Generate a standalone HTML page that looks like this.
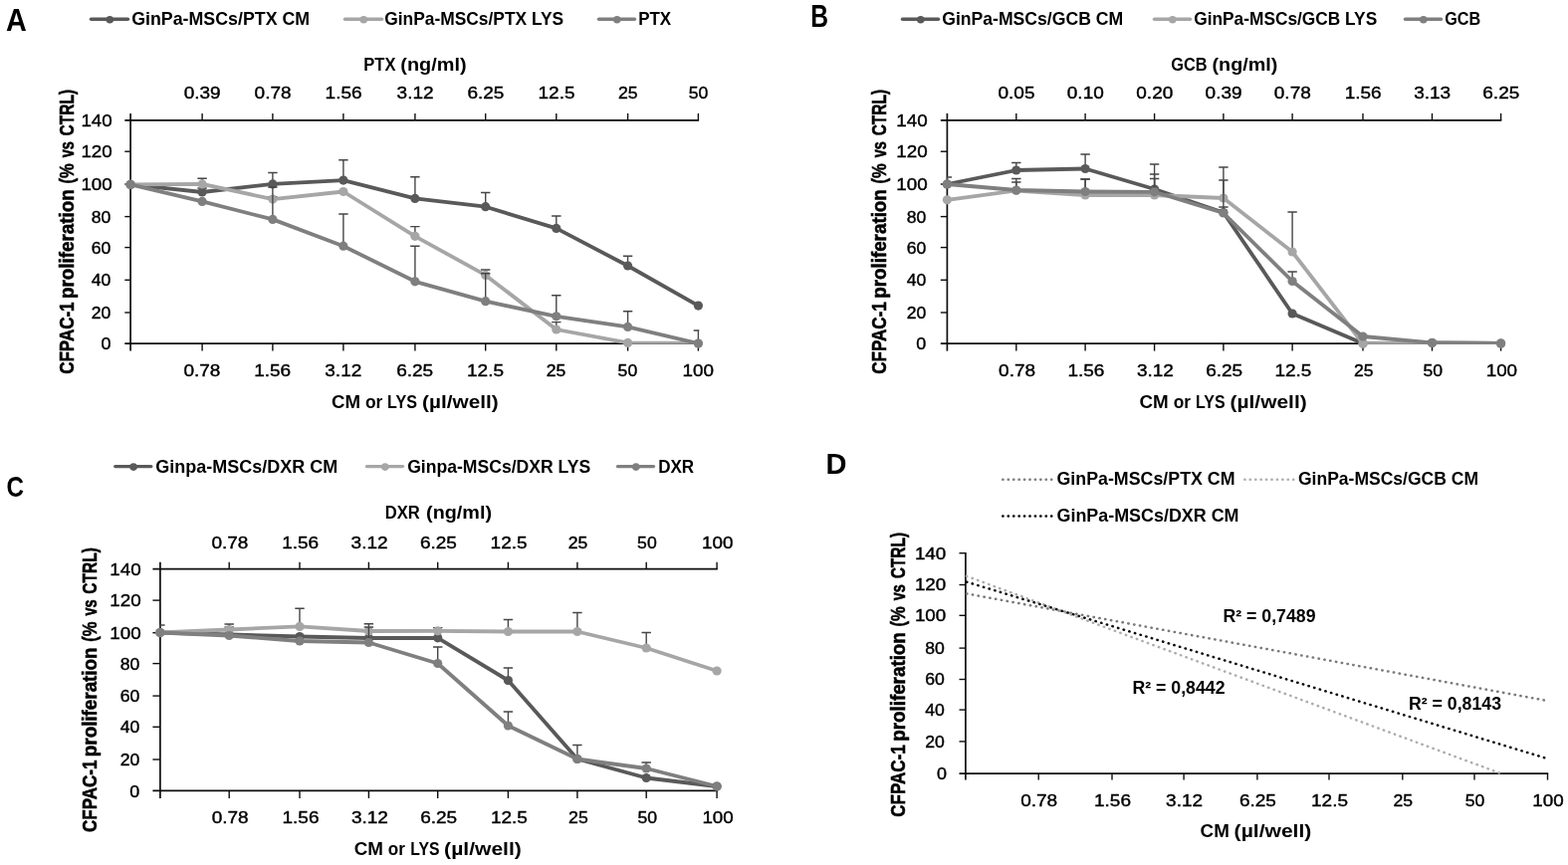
<!DOCTYPE html>
<html lang="en">
<head>
<meta charset="utf-8">
<title>CFPAC-1 proliferation</title>
<style>
html,body{margin:0;padding:0;background:#fff;overflow:hidden}
svg{display:block;font-family:'Liberation Sans', sans-serif}
</style>
</head>
<body>
<svg width="1575" height="869" viewBox="0 0 1575 869">
<rect width="1575" height="869" fill="#fff"/>
<text x="6.0" y="31.4" font-size="31.4" text-anchor="start" fill="#000" font-weight="bold" textLength="20.8" lengthAdjust="spacingAndGlyphs">A</text>
<line x1="91.5" y1="19.3" x2="128.5" y2="19.3" stroke="#595959" stroke-width="3.4" stroke-linecap="round"/>
<circle cx="110.3" cy="19.8" r="3.8" fill="#595959"/>
<text x="132.2" y="25.4" font-size="18.1" text-anchor="start" fill="#000" font-weight="bold" textLength="179.0" lengthAdjust="spacingAndGlyphs">GinPa-MSCs/PTX CM</text>
<line x1="346.5" y1="19.3" x2="383.5" y2="19.3" stroke="#a6a6a6" stroke-width="3.4" stroke-linecap="round"/>
<circle cx="365.3" cy="19.8" r="3.8" fill="#a6a6a6"/>
<text x="386.2" y="25.4" font-size="18.1" text-anchor="start" fill="#000" font-weight="bold" textLength="180.0" lengthAdjust="spacingAndGlyphs">GinPa-MSCs/PTX LYS</text>
<line x1="601.5" y1="19.3" x2="637.5" y2="19.3" stroke="#7f7f7f" stroke-width="3.4" stroke-linecap="round"/>
<circle cx="619.8" cy="19.8" r="3.8" fill="#7f7f7f"/>
<text x="641.2" y="25.4" font-size="18.1" text-anchor="start" fill="#000" font-weight="bold" textLength="33.0" lengthAdjust="spacingAndGlyphs">PTX</text>
<line x1="131.1" y1="113.9" x2="131.1" y2="352.6" stroke="#0d0d0d" stroke-width="1.7" />
<line x1="125.3" y1="345.1" x2="702.1" y2="345.1" stroke="#0d0d0d" stroke-width="1.7" />
<line x1="125.3" y1="120.9" x2="702.1" y2="120.9" stroke="#0d0d0d" stroke-width="1.7" />
<line x1="203.1" y1="345.1" x2="203.1" y2="352.6" stroke="#0d0d0d" stroke-width="1.4" />
<line x1="203.1" y1="113.9" x2="203.1" y2="120.9" stroke="#0d0d0d" stroke-width="1.4" />
<line x1="273.9" y1="345.1" x2="273.9" y2="352.6" stroke="#0d0d0d" stroke-width="1.4" />
<line x1="273.9" y1="113.9" x2="273.9" y2="120.9" stroke="#0d0d0d" stroke-width="1.4" />
<line x1="344.9" y1="345.1" x2="344.9" y2="352.6" stroke="#0d0d0d" stroke-width="1.4" />
<line x1="344.9" y1="113.9" x2="344.9" y2="120.9" stroke="#0d0d0d" stroke-width="1.4" />
<line x1="416.9" y1="345.1" x2="416.9" y2="352.6" stroke="#0d0d0d" stroke-width="1.4" />
<line x1="416.9" y1="113.9" x2="416.9" y2="120.9" stroke="#0d0d0d" stroke-width="1.4" />
<line x1="487.7" y1="345.1" x2="487.7" y2="352.6" stroke="#0d0d0d" stroke-width="1.4" />
<line x1="487.7" y1="113.9" x2="487.7" y2="120.9" stroke="#0d0d0d" stroke-width="1.4" />
<line x1="558.8" y1="345.1" x2="558.8" y2="352.6" stroke="#0d0d0d" stroke-width="1.4" />
<line x1="558.8" y1="113.9" x2="558.8" y2="120.9" stroke="#0d0d0d" stroke-width="1.4" />
<line x1="630.6" y1="345.1" x2="630.6" y2="352.6" stroke="#0d0d0d" stroke-width="1.4" />
<line x1="630.6" y1="113.9" x2="630.6" y2="120.9" stroke="#0d0d0d" stroke-width="1.4" />
<line x1="701.4" y1="345.1" x2="701.4" y2="352.6" stroke="#0d0d0d" stroke-width="1.4" />
<line x1="701.4" y1="113.9" x2="701.4" y2="120.9" stroke="#0d0d0d" stroke-width="1.4" />
<text x="111.4" y="351.2" font-size="17.0" text-anchor="end" fill="#000" stroke="#000" stroke-width="0.4" textLength="10.0" lengthAdjust="spacingAndGlyphs">0</text>
<line x1="125.3" y1="314.0" x2="131.1" y2="314.0" stroke="#0d0d0d" stroke-width="1.4" />
<text x="111.4" y="320.1" font-size="17.0" text-anchor="end" fill="#000" stroke="#000" stroke-width="0.4" textLength="19.6" lengthAdjust="spacingAndGlyphs">20</text>
<line x1="125.3" y1="281.3" x2="131.1" y2="281.3" stroke="#0d0d0d" stroke-width="1.4" />
<text x="111.4" y="287.4" font-size="17.0" text-anchor="end" fill="#000" stroke="#000" stroke-width="0.4" textLength="19.6" lengthAdjust="spacingAndGlyphs">40</text>
<line x1="125.3" y1="248.6" x2="131.1" y2="248.6" stroke="#0d0d0d" stroke-width="1.4" />
<text x="111.4" y="254.7" font-size="17.0" text-anchor="end" fill="#000" stroke="#000" stroke-width="0.4" textLength="19.6" lengthAdjust="spacingAndGlyphs">60</text>
<line x1="125.3" y1="217.6" x2="131.1" y2="217.6" stroke="#0d0d0d" stroke-width="1.4" />
<text x="111.4" y="223.7" font-size="17.0" text-anchor="end" fill="#000" stroke="#000" stroke-width="0.4" textLength="19.6" lengthAdjust="spacingAndGlyphs">80</text>
<line x1="125.3" y1="185.0" x2="131.1" y2="185.0" stroke="#0d0d0d" stroke-width="1.4" />
<text x="112.8" y="191.1" font-size="17.0" text-anchor="end" fill="#000" stroke="#000" stroke-width="0.4" textLength="31.4" lengthAdjust="spacingAndGlyphs">100</text>
<line x1="125.3" y1="152.2" x2="131.1" y2="152.2" stroke="#0d0d0d" stroke-width="1.4" />
<text x="112.8" y="158.3" font-size="17.0" text-anchor="end" fill="#000" stroke="#000" stroke-width="0.4" textLength="31.4" lengthAdjust="spacingAndGlyphs">120</text>
<text x="112.8" y="127.0" font-size="17.0" text-anchor="end" fill="#000" stroke="#000" stroke-width="0.4" textLength="31.4" lengthAdjust="spacingAndGlyphs">140</text>
<text x="202.9" y="378.2" font-size="17.0" text-anchor="middle" fill="#000" stroke="#000" stroke-width="0.4" textLength="37.0" lengthAdjust="spacingAndGlyphs">0.78</text>
<text x="273.7" y="378.2" font-size="17.0" text-anchor="middle" fill="#000" stroke="#000" stroke-width="0.4" textLength="37.0" lengthAdjust="spacingAndGlyphs">1.56</text>
<text x="344.8" y="378.2" font-size="17.0" text-anchor="middle" fill="#000" stroke="#000" stroke-width="0.4" textLength="37.0" lengthAdjust="spacingAndGlyphs">3.12</text>
<text x="416.7" y="378.2" font-size="17.0" text-anchor="middle" fill="#000" stroke="#000" stroke-width="0.4" textLength="37.0" lengthAdjust="spacingAndGlyphs">6.25</text>
<text x="487.5" y="378.2" font-size="17.0" text-anchor="middle" fill="#000" stroke="#000" stroke-width="0.4" textLength="37.0" lengthAdjust="spacingAndGlyphs">12.5</text>
<text x="558.6" y="378.2" font-size="17.0" text-anchor="middle" fill="#000" stroke="#000" stroke-width="0.4" textLength="19.6" lengthAdjust="spacingAndGlyphs">25</text>
<text x="630.4" y="378.2" font-size="17.0" text-anchor="middle" fill="#000" stroke="#000" stroke-width="0.4" textLength="19.6" lengthAdjust="spacingAndGlyphs">50</text>
<text x="701.2" y="378.2" font-size="17.0" text-anchor="middle" fill="#000" stroke="#000" stroke-width="0.4" textLength="31.4" lengthAdjust="spacingAndGlyphs">100</text>
<text x="203.2" y="99.3" font-size="17.0" text-anchor="middle" fill="#000" stroke="#000" stroke-width="0.4" textLength="37.0" lengthAdjust="spacingAndGlyphs">0.39</text>
<text x="274.1" y="99.3" font-size="17.0" text-anchor="middle" fill="#000" stroke="#000" stroke-width="0.4" textLength="37.0" lengthAdjust="spacingAndGlyphs">0.78</text>
<text x="345.1" y="99.3" font-size="17.0" text-anchor="middle" fill="#000" stroke="#000" stroke-width="0.4" textLength="37.0" lengthAdjust="spacingAndGlyphs">1.56</text>
<text x="417.1" y="99.3" font-size="17.0" text-anchor="middle" fill="#000" stroke="#000" stroke-width="0.4" textLength="37.0" lengthAdjust="spacingAndGlyphs">3.12</text>
<text x="487.9" y="99.3" font-size="17.0" text-anchor="middle" fill="#000" stroke="#000" stroke-width="0.4" textLength="37.0" lengthAdjust="spacingAndGlyphs">6.25</text>
<text x="559.0" y="99.3" font-size="17.0" text-anchor="middle" fill="#000" stroke="#000" stroke-width="0.4" textLength="37.0" lengthAdjust="spacingAndGlyphs">12.5</text>
<text x="630.8" y="99.3" font-size="17.0" text-anchor="middle" fill="#000" stroke="#000" stroke-width="0.4" textLength="19.6" lengthAdjust="spacingAndGlyphs">25</text>
<text x="701.6" y="99.3" font-size="17.0" text-anchor="middle" fill="#000" stroke="#000" stroke-width="0.4" textLength="19.6" lengthAdjust="spacingAndGlyphs">50</text>
<text y="70.8" font-size="18.0" fill="#000" font-weight="bold" ><tspan x="365.27" textLength="32.15" lengthAdjust="spacingAndGlyphs">PTX</tspan> <tspan x="402.27" textLength="66.35" lengthAdjust="spacingAndGlyphs">(ng/ml)</tspan></text>
<text y="409.6" font-size="18.0" fill="#000" font-weight="bold" ><tspan x="333.12" textLength="29.05" lengthAdjust="spacingAndGlyphs">CM</tspan> <tspan x="366.96" textLength="17.39" lengthAdjust="spacingAndGlyphs">or</tspan> <tspan x="389.09" textLength="29.83" lengthAdjust="spacingAndGlyphs">LYS</tspan> <tspan x="424.13" textLength="76.52" lengthAdjust="spacingAndGlyphs">(µl/well)</tspan></text>
<text y="0.0" font-size="18.3" fill="#000" font-weight="bold" stroke="#000" stroke-width="0.5" transform="translate(73.9 375.5) rotate(-90) scale(1 1.14)"><tspan x="-0.28" textLength="72.35" lengthAdjust="spacingAndGlyphs">CFPAC-1</tspan> <tspan x="75.57" textLength="109.68" lengthAdjust="spacingAndGlyphs">proliferation</tspan> <tspan x="190.98" textLength="20.10" lengthAdjust="spacingAndGlyphs">(%</tspan> <tspan x="217.15" textLength="16.19" lengthAdjust="spacingAndGlyphs">vs</tspan> <tspan x="239.06" textLength="46.55" lengthAdjust="spacingAndGlyphs">CTRL)</tspan></text>
<clipPath id="clip1"><rect x="130.5" y="90.9" width="571.8" height="254.8"/></clipPath>
<g clip-path="url(#clip1)" stroke="#464646" stroke-width="1.4">
<path d="M203.1 193.0V189.0M198.4 189.0H207.8" fill="none"/>
<path d="M273.9 184.9V173.5M269.2 173.5H278.6" fill="none"/>
<path d="M344.9 181.1V160.8M340.2 160.8H349.6" fill="none"/>
<path d="M416.9 199.4V177.8M412.2 177.8H421.6" fill="none"/>
<path d="M487.7 207.7V193.5M483.0 193.5H492.4" fill="none"/>
<path d="M558.8 229.4V217.0M554.1 217.0H563.5" fill="none"/>
<path d="M630.6 267.0V257.3M625.9 257.3H635.3" fill="none"/>
</g>
<polyline clip-path="url(#clip1)" points="131.1,185.4 203.1,193.0 273.9,184.9 344.9,181.1 416.9,199.4 487.7,207.7 558.8,229.4 630.6,267.0 701.4,307.1" fill="none" stroke="#595959" stroke-width="3.8" stroke-linejoin="round" stroke-linecap="round"/>
<circle cx="131.1" cy="185.4" r="4.6" fill="#595959"/>
<circle cx="203.1" cy="193.0" r="4.6" fill="#595959"/>
<circle cx="273.9" cy="184.9" r="4.6" fill="#595959"/>
<circle cx="344.9" cy="181.1" r="4.6" fill="#595959"/>
<circle cx="416.9" cy="199.4" r="4.6" fill="#595959"/>
<circle cx="487.7" cy="207.7" r="4.6" fill="#595959"/>
<circle cx="558.8" cy="229.4" r="4.6" fill="#595959"/>
<circle cx="630.6" cy="267.0" r="4.6" fill="#595959"/>
<circle cx="701.4" cy="307.1" r="4.6" fill="#595959"/>
<g clip-path="url(#clip1)" stroke="#464646" stroke-width="1.4">
<path d="M203.1 184.9V179.2M198.4 179.2H207.8" fill="none"/>
<path d="M273.9 200.1V197.6M269.2 197.6H278.6" fill="none"/>
<path d="M416.9 237.3V227.6M412.2 227.6H421.6" fill="none"/>
<path d="M487.7 276.4V271.0M483.0 271.0H492.4" fill="none"/>
<path d="M558.8 331.0V323.6M554.1 323.6H563.5" fill="none"/>
</g>
<polyline clip-path="url(#clip1)" points="131.1,185.4 203.1,184.9 273.9,200.1 344.9,192.5 416.9,237.3 487.7,276.4 558.8,331.0 630.6,344.4 701.4,345.0" fill="none" stroke="#a6a6a6" stroke-width="3.8" stroke-linejoin="round" stroke-linecap="round"/>
<circle cx="131.1" cy="185.4" r="4.6" fill="#a6a6a6"/>
<circle cx="203.1" cy="184.9" r="4.6" fill="#a6a6a6"/>
<circle cx="273.9" cy="200.1" r="4.6" fill="#a6a6a6"/>
<circle cx="344.9" cy="192.5" r="4.6" fill="#a6a6a6"/>
<circle cx="416.9" cy="237.3" r="4.6" fill="#a6a6a6"/>
<circle cx="487.7" cy="276.4" r="4.6" fill="#a6a6a6"/>
<circle cx="558.8" cy="331.0" r="4.6" fill="#a6a6a6"/>
<circle cx="630.6" cy="344.4" r="4.6" fill="#a6a6a6"/>
<circle cx="701.4" cy="345.0" r="4.6" fill="#a6a6a6"/>
<g clip-path="url(#clip1)" stroke="#464646" stroke-width="1.4">
<path d="M273.9 220.4V188.0M269.2 188.0H278.6" fill="none"/>
<path d="M344.9 247.2V215.0M340.2 215.0H349.6" fill="none"/>
<path d="M416.9 282.8V247.2M412.2 247.2H421.6" fill="none"/>
<path d="M487.7 302.7V274.8M483.0 274.8H492.4" fill="none"/>
<path d="M558.8 317.8V296.7M554.1 296.7H563.5" fill="none"/>
<path d="M630.6 328.4V312.7M625.9 312.7H635.3" fill="none"/>
<path d="M701.4 345.0V332.0M696.7 332.0H706.1" fill="none"/>
</g>
<polyline clip-path="url(#clip1)" points="131.1,185.4 203.1,202.4 273.9,220.4 344.9,247.2 416.9,282.8 487.7,302.7 558.8,317.8 630.6,328.4 701.4,345.0" fill="none" stroke="#7f7f7f" stroke-width="3.8" stroke-linejoin="round" stroke-linecap="round"/>
<circle cx="131.1" cy="185.4" r="4.6" fill="#7f7f7f"/>
<circle cx="203.1" cy="202.4" r="4.6" fill="#7f7f7f"/>
<circle cx="273.9" cy="220.4" r="4.6" fill="#7f7f7f"/>
<circle cx="344.9" cy="247.2" r="4.6" fill="#7f7f7f"/>
<circle cx="416.9" cy="282.8" r="4.6" fill="#7f7f7f"/>
<circle cx="487.7" cy="302.7" r="4.6" fill="#7f7f7f"/>
<circle cx="558.8" cy="317.8" r="4.6" fill="#7f7f7f"/>
<circle cx="630.6" cy="328.4" r="4.6" fill="#7f7f7f"/>
<circle cx="701.4" cy="345.0" r="4.6" fill="#7f7f7f"/>
<text x="814.2" y="27.0" font-size="30.8" text-anchor="start" fill="#000" font-weight="bold" textLength="17.8" lengthAdjust="spacingAndGlyphs">B</text>
<line x1="906.5" y1="19.3" x2="942.5" y2="19.3" stroke="#595959" stroke-width="3.4" stroke-linecap="round"/>
<circle cx="924.8" cy="19.8" r="3.8" fill="#595959"/>
<text x="946.2" y="25.4" font-size="18.1" text-anchor="start" fill="#000" font-weight="bold" textLength="182.0" lengthAdjust="spacingAndGlyphs">GinPa-MSCs/GCB CM</text>
<line x1="1159.5" y1="19.3" x2="1195.5" y2="19.3" stroke="#a6a6a6" stroke-width="3.4" stroke-linecap="round"/>
<circle cx="1177.8" cy="19.8" r="3.8" fill="#a6a6a6"/>
<text x="1199.2" y="25.4" font-size="18.1" text-anchor="start" fill="#000" font-weight="bold" textLength="184.0" lengthAdjust="spacingAndGlyphs">GinPa-MSCs/GCB LYS</text>
<line x1="1411.5" y1="19.3" x2="1447.5" y2="19.3" stroke="#7f7f7f" stroke-width="3.4" stroke-linecap="round"/>
<circle cx="1429.8" cy="19.8" r="3.8" fill="#7f7f7f"/>
<text x="1451.2" y="25.4" font-size="18.1" text-anchor="start" fill="#000" font-weight="bold" textLength="36.0" lengthAdjust="spacingAndGlyphs">GCB</text>
<line x1="951.4" y1="113.9" x2="951.4" y2="352.6" stroke="#0d0d0d" stroke-width="1.7" />
<line x1="944.8" y1="345.1" x2="1508.3" y2="345.1" stroke="#0d0d0d" stroke-width="1.7" />
<line x1="944.8" y1="120.9" x2="1508.3" y2="120.9" stroke="#0d0d0d" stroke-width="1.7" />
<line x1="1020.8" y1="345.1" x2="1020.8" y2="352.6" stroke="#0d0d0d" stroke-width="1.4" />
<line x1="1020.8" y1="113.9" x2="1020.8" y2="120.9" stroke="#0d0d0d" stroke-width="1.4" />
<line x1="1090.1" y1="345.1" x2="1090.1" y2="352.6" stroke="#0d0d0d" stroke-width="1.4" />
<line x1="1090.1" y1="113.9" x2="1090.1" y2="120.9" stroke="#0d0d0d" stroke-width="1.4" />
<line x1="1159.6" y1="345.1" x2="1159.6" y2="352.6" stroke="#0d0d0d" stroke-width="1.4" />
<line x1="1159.6" y1="113.9" x2="1159.6" y2="120.9" stroke="#0d0d0d" stroke-width="1.4" />
<line x1="1228.9" y1="345.1" x2="1228.9" y2="352.6" stroke="#0d0d0d" stroke-width="1.4" />
<line x1="1228.9" y1="113.9" x2="1228.9" y2="120.9" stroke="#0d0d0d" stroke-width="1.4" />
<line x1="1298.1" y1="345.1" x2="1298.1" y2="352.6" stroke="#0d0d0d" stroke-width="1.4" />
<line x1="1298.1" y1="113.9" x2="1298.1" y2="120.9" stroke="#0d0d0d" stroke-width="1.4" />
<line x1="1369.0" y1="345.1" x2="1369.0" y2="352.6" stroke="#0d0d0d" stroke-width="1.4" />
<line x1="1369.0" y1="113.9" x2="1369.0" y2="120.9" stroke="#0d0d0d" stroke-width="1.4" />
<line x1="1438.5" y1="345.1" x2="1438.5" y2="352.6" stroke="#0d0d0d" stroke-width="1.4" />
<line x1="1438.5" y1="113.9" x2="1438.5" y2="120.9" stroke="#0d0d0d" stroke-width="1.4" />
<line x1="1507.6" y1="345.1" x2="1507.6" y2="352.6" stroke="#0d0d0d" stroke-width="1.4" />
<line x1="1507.6" y1="113.9" x2="1507.6" y2="120.9" stroke="#0d0d0d" stroke-width="1.4" />
<text x="930.3" y="351.2" font-size="17.0" text-anchor="end" fill="#000" stroke="#000" stroke-width="0.4" textLength="10.0" lengthAdjust="spacingAndGlyphs">0</text>
<line x1="944.8" y1="314.0" x2="951.4" y2="314.0" stroke="#0d0d0d" stroke-width="1.4" />
<text x="930.3" y="320.1" font-size="17.0" text-anchor="end" fill="#000" stroke="#000" stroke-width="0.4" textLength="19.6" lengthAdjust="spacingAndGlyphs">20</text>
<line x1="944.8" y1="281.3" x2="951.4" y2="281.3" stroke="#0d0d0d" stroke-width="1.4" />
<text x="930.3" y="287.4" font-size="17.0" text-anchor="end" fill="#000" stroke="#000" stroke-width="0.4" textLength="19.6" lengthAdjust="spacingAndGlyphs">40</text>
<line x1="944.8" y1="248.6" x2="951.4" y2="248.6" stroke="#0d0d0d" stroke-width="1.4" />
<text x="930.3" y="254.7" font-size="17.0" text-anchor="end" fill="#000" stroke="#000" stroke-width="0.4" textLength="19.6" lengthAdjust="spacingAndGlyphs">60</text>
<line x1="944.8" y1="217.6" x2="951.4" y2="217.6" stroke="#0d0d0d" stroke-width="1.4" />
<text x="930.3" y="223.7" font-size="17.0" text-anchor="end" fill="#000" stroke="#000" stroke-width="0.4" textLength="19.6" lengthAdjust="spacingAndGlyphs">80</text>
<line x1="944.8" y1="185.0" x2="951.4" y2="185.0" stroke="#0d0d0d" stroke-width="1.4" />
<text x="931.7" y="191.1" font-size="17.0" text-anchor="end" fill="#000" stroke="#000" stroke-width="0.4" textLength="31.4" lengthAdjust="spacingAndGlyphs">100</text>
<line x1="944.8" y1="152.2" x2="951.4" y2="152.2" stroke="#0d0d0d" stroke-width="1.4" />
<text x="931.7" y="158.3" font-size="17.0" text-anchor="end" fill="#000" stroke="#000" stroke-width="0.4" textLength="31.4" lengthAdjust="spacingAndGlyphs">120</text>
<text x="931.7" y="127.0" font-size="17.0" text-anchor="end" fill="#000" stroke="#000" stroke-width="0.4" textLength="31.4" lengthAdjust="spacingAndGlyphs">140</text>
<text x="1021.6" y="378.2" font-size="17.0" text-anchor="middle" fill="#000" stroke="#000" stroke-width="0.4" textLength="37.0" lengthAdjust="spacingAndGlyphs">0.78</text>
<text x="1090.9" y="378.2" font-size="17.0" text-anchor="middle" fill="#000" stroke="#000" stroke-width="0.4" textLength="37.0" lengthAdjust="spacingAndGlyphs">1.56</text>
<text x="1160.4" y="378.2" font-size="17.0" text-anchor="middle" fill="#000" stroke="#000" stroke-width="0.4" textLength="37.0" lengthAdjust="spacingAndGlyphs">3.12</text>
<text x="1229.7" y="378.2" font-size="17.0" text-anchor="middle" fill="#000" stroke="#000" stroke-width="0.4" textLength="37.0" lengthAdjust="spacingAndGlyphs">6.25</text>
<text x="1298.9" y="378.2" font-size="17.0" text-anchor="middle" fill="#000" stroke="#000" stroke-width="0.4" textLength="37.0" lengthAdjust="spacingAndGlyphs">12.5</text>
<text x="1369.8" y="378.2" font-size="17.0" text-anchor="middle" fill="#000" stroke="#000" stroke-width="0.4" textLength="19.6" lengthAdjust="spacingAndGlyphs">25</text>
<text x="1439.3" y="378.2" font-size="17.0" text-anchor="middle" fill="#000" stroke="#000" stroke-width="0.4" textLength="19.6" lengthAdjust="spacingAndGlyphs">50</text>
<text x="1508.4" y="378.2" font-size="17.0" text-anchor="middle" fill="#000" stroke="#000" stroke-width="0.4" textLength="31.4" lengthAdjust="spacingAndGlyphs">100</text>
<text x="1021.0" y="99.3" font-size="17.0" text-anchor="middle" fill="#000" stroke="#000" stroke-width="0.4" textLength="37.0" lengthAdjust="spacingAndGlyphs">0.05</text>
<text x="1090.3" y="99.3" font-size="17.0" text-anchor="middle" fill="#000" stroke="#000" stroke-width="0.4" textLength="37.0" lengthAdjust="spacingAndGlyphs">0.10</text>
<text x="1159.8" y="99.3" font-size="17.0" text-anchor="middle" fill="#000" stroke="#000" stroke-width="0.4" textLength="37.0" lengthAdjust="spacingAndGlyphs">0.20</text>
<text x="1229.1" y="99.3" font-size="17.0" text-anchor="middle" fill="#000" stroke="#000" stroke-width="0.4" textLength="37.0" lengthAdjust="spacingAndGlyphs">0.39</text>
<text x="1298.3" y="99.3" font-size="17.0" text-anchor="middle" fill="#000" stroke="#000" stroke-width="0.4" textLength="37.0" lengthAdjust="spacingAndGlyphs">0.78</text>
<text x="1369.2" y="99.3" font-size="17.0" text-anchor="middle" fill="#000" stroke="#000" stroke-width="0.4" textLength="37.0" lengthAdjust="spacingAndGlyphs">1.56</text>
<text x="1438.7" y="99.3" font-size="17.0" text-anchor="middle" fill="#000" stroke="#000" stroke-width="0.4" textLength="37.0" lengthAdjust="spacingAndGlyphs">3.13</text>
<text x="1507.8" y="99.3" font-size="17.0" text-anchor="middle" fill="#000" stroke="#000" stroke-width="0.4" textLength="37.0" lengthAdjust="spacingAndGlyphs">6.25</text>
<text y="70.6" font-size="18.0" fill="#000" font-weight="bold" ><tspan x="1176.29" textLength="36.28" lengthAdjust="spacingAndGlyphs">GCB</tspan> <tspan x="1217.47" textLength="65.94" lengthAdjust="spacingAndGlyphs">(ng/ml)</tspan></text>
<text y="409.5" font-size="18.0" fill="#000" font-weight="bold" ><tspan x="1144.51" textLength="29.26" lengthAdjust="spacingAndGlyphs">CM</tspan> <tspan x="1178.66" textLength="17.28" lengthAdjust="spacingAndGlyphs">or</tspan> <tspan x="1201.10" textLength="29.52" lengthAdjust="spacingAndGlyphs">LYS</tspan> <tspan x="1235.52" textLength="77.14" lengthAdjust="spacingAndGlyphs">(µl/well)</tspan></text>
<text y="0.0" font-size="18.3" fill="#000" font-weight="bold" stroke="#000" stroke-width="0.5" transform="translate(890.4 375.4) rotate(-90) scale(1 1.14)"><tspan x="-0.28" textLength="72.35" lengthAdjust="spacingAndGlyphs">CFPAC-1</tspan> <tspan x="75.57" textLength="109.68" lengthAdjust="spacingAndGlyphs">proliferation</tspan> <tspan x="190.98" textLength="20.10" lengthAdjust="spacingAndGlyphs">(%</tspan> <tspan x="217.15" textLength="16.19" lengthAdjust="spacingAndGlyphs">vs</tspan> <tspan x="239.06" textLength="46.55" lengthAdjust="spacingAndGlyphs">CTRL)</tspan></text>
<clipPath id="clip2"><rect x="950.8" y="90.9" width="557.7" height="254.8"/></clipPath>
<g clip-path="url(#clip2)" stroke="#464646" stroke-width="1.4">
<path d="M951.4 185.0V178.0M946.7 178.0H956.1" fill="none"/>
<path d="M1020.8 171.0V163.5M1016.1 163.5H1025.5" fill="none"/>
<path d="M1090.1 169.5V155.0M1085.4 155.0H1094.8" fill="none"/>
<path d="M1159.6 190.0V165.0M1154.9 165.0H1164.3" fill="none"/>
<path d="M1228.9 213.5V208.0M1224.2 208.0H1233.6" fill="none"/>
</g>
<polyline clip-path="url(#clip2)" points="951.4,185.0 1020.8,171.0 1090.1,169.5 1159.6,190.0 1228.9,213.5 1298.1,315.0 1369.0,345.0 1438.5,344.5 1507.6,345.0" fill="none" stroke="#595959" stroke-width="3.8" stroke-linejoin="round" stroke-linecap="round"/>
<circle cx="951.4" cy="185.0" r="4.6" fill="#595959"/>
<circle cx="1020.8" cy="171.0" r="4.6" fill="#595959"/>
<circle cx="1090.1" cy="169.5" r="4.6" fill="#595959"/>
<circle cx="1159.6" cy="190.0" r="4.6" fill="#595959"/>
<circle cx="1228.9" cy="213.5" r="4.6" fill="#595959"/>
<circle cx="1298.1" cy="315.0" r="4.6" fill="#595959"/>
<circle cx="1369.0" cy="345.0" r="4.6" fill="#595959"/>
<circle cx="1438.5" cy="344.5" r="4.6" fill="#595959"/>
<circle cx="1507.6" cy="345.0" r="4.6" fill="#595959"/>
<g clip-path="url(#clip2)" stroke="#464646" stroke-width="1.4">
<path d="M1020.8 191.5V179.5M1016.1 179.5H1025.5" fill="none"/>
<path d="M1090.1 196.0V180.0M1085.4 180.0H1094.8" fill="none"/>
<path d="M1159.6 196.0V175.0M1154.9 175.0H1164.3" fill="none"/>
<path d="M1228.9 199.0V168.0M1224.2 168.0H1233.6" fill="none"/>
<path d="M1298.1 253.0V213.0M1293.4 213.0H1302.8" fill="none"/>
</g>
<polyline clip-path="url(#clip2)" points="951.4,200.8 1020.8,191.5 1090.1,196.0 1159.6,196.0 1228.9,199.0 1298.1,253.0 1369.0,345.2 1438.5,344.5 1507.6,345.0" fill="none" stroke="#a6a6a6" stroke-width="3.8" stroke-linejoin="round" stroke-linecap="round"/>
<circle cx="951.4" cy="200.8" r="4.6" fill="#a6a6a6"/>
<circle cx="1020.8" cy="191.5" r="4.6" fill="#a6a6a6"/>
<circle cx="1090.1" cy="196.0" r="4.6" fill="#a6a6a6"/>
<circle cx="1159.6" cy="196.0" r="4.6" fill="#a6a6a6"/>
<circle cx="1228.9" cy="199.0" r="4.6" fill="#a6a6a6"/>
<circle cx="1298.1" cy="253.0" r="4.6" fill="#a6a6a6"/>
<circle cx="1369.0" cy="345.2" r="4.6" fill="#a6a6a6"/>
<circle cx="1438.5" cy="344.5" r="4.6" fill="#a6a6a6"/>
<circle cx="1507.6" cy="345.0" r="4.6" fill="#a6a6a6"/>
<g clip-path="url(#clip2)" stroke="#464646" stroke-width="1.4">
<path d="M1020.8 191.0V183.0M1016.1 183.0H1025.5" fill="none"/>
<path d="M1090.1 192.5V180.0M1085.4 180.0H1094.8" fill="none"/>
<path d="M1159.6 192.8V179.5M1154.9 179.5H1164.3" fill="none"/>
<path d="M1228.9 214.0V181.0M1224.2 181.0H1233.6" fill="none"/>
<path d="M1298.1 282.5V273.0M1293.4 273.0H1302.8" fill="none"/>
</g>
<polyline clip-path="url(#clip2)" points="951.4,185.0 1020.8,191.0 1090.1,192.5 1159.6,192.8 1228.9,214.0 1298.1,282.5 1369.0,338.0 1438.5,344.3 1507.6,345.0" fill="none" stroke="#7f7f7f" stroke-width="3.8" stroke-linejoin="round" stroke-linecap="round"/>
<circle cx="951.4" cy="185.0" r="4.6" fill="#7f7f7f"/>
<circle cx="1020.8" cy="191.0" r="4.6" fill="#7f7f7f"/>
<circle cx="1090.1" cy="192.5" r="4.6" fill="#7f7f7f"/>
<circle cx="1159.6" cy="192.8" r="4.6" fill="#7f7f7f"/>
<circle cx="1228.9" cy="214.0" r="4.6" fill="#7f7f7f"/>
<circle cx="1298.1" cy="282.5" r="4.6" fill="#7f7f7f"/>
<circle cx="1369.0" cy="338.0" r="4.6" fill="#7f7f7f"/>
<circle cx="1438.5" cy="344.3" r="4.6" fill="#7f7f7f"/>
<circle cx="1507.6" cy="345.0" r="4.6" fill="#7f7f7f"/>
<text x="6.5" y="498.7" font-size="30.0" text-anchor="start" fill="#000" font-weight="bold" textLength="17.5" lengthAdjust="spacingAndGlyphs">C</text>
<line x1="115.8" y1="468.6" x2="151.8" y2="468.6" stroke="#595959" stroke-width="3.4" stroke-linecap="round"/>
<circle cx="134.1" cy="469.1" r="3.8" fill="#595959"/>
<text x="156.2" y="474.7" font-size="18.1" text-anchor="start" fill="#000" font-weight="bold" textLength="183.0" lengthAdjust="spacingAndGlyphs">Ginpa-MSCs/DXR CM</text>
<line x1="368.5" y1="468.6" x2="404.5" y2="468.6" stroke="#a6a6a6" stroke-width="3.4" stroke-linecap="round"/>
<circle cx="386.8" cy="469.1" r="3.8" fill="#a6a6a6"/>
<text x="409.2" y="474.7" font-size="18.1" text-anchor="start" fill="#000" font-weight="bold" textLength="184.0" lengthAdjust="spacingAndGlyphs">Ginpa-MSCs/DXR LYS</text>
<line x1="620.5" y1="468.6" x2="656.5" y2="468.6" stroke="#7f7f7f" stroke-width="3.4" stroke-linecap="round"/>
<circle cx="638.8" cy="469.1" r="3.8" fill="#7f7f7f"/>
<text x="661.2" y="474.7" font-size="18.1" text-anchor="start" fill="#000" font-weight="bold" textLength="36.0" lengthAdjust="spacingAndGlyphs">DXR</text>
<line x1="160.9" y1="564.7" x2="160.9" y2="801.9" stroke="#0d0d0d" stroke-width="1.7" />
<line x1="153.4" y1="794.4" x2="720.8" y2="794.4" stroke="#0d0d0d" stroke-width="1.7" />
<line x1="153.4" y1="571.7" x2="720.8" y2="571.7" stroke="#0d0d0d" stroke-width="1.7" />
<line x1="230.2" y1="794.4" x2="230.2" y2="801.9" stroke="#0d0d0d" stroke-width="1.4" />
<line x1="230.2" y1="564.7" x2="230.2" y2="571.7" stroke="#0d0d0d" stroke-width="1.4" />
<line x1="301.0" y1="794.4" x2="301.0" y2="801.9" stroke="#0d0d0d" stroke-width="1.4" />
<line x1="301.0" y1="564.7" x2="301.0" y2="571.7" stroke="#0d0d0d" stroke-width="1.4" />
<line x1="370.4" y1="794.4" x2="370.4" y2="801.9" stroke="#0d0d0d" stroke-width="1.4" />
<line x1="370.4" y1="564.7" x2="370.4" y2="571.7" stroke="#0d0d0d" stroke-width="1.4" />
<line x1="439.7" y1="794.4" x2="439.7" y2="801.9" stroke="#0d0d0d" stroke-width="1.4" />
<line x1="439.7" y1="564.7" x2="439.7" y2="571.7" stroke="#0d0d0d" stroke-width="1.4" />
<line x1="510.4" y1="794.4" x2="510.4" y2="801.9" stroke="#0d0d0d" stroke-width="1.4" />
<line x1="510.4" y1="564.7" x2="510.4" y2="571.7" stroke="#0d0d0d" stroke-width="1.4" />
<line x1="579.9" y1="794.4" x2="579.9" y2="801.9" stroke="#0d0d0d" stroke-width="1.4" />
<line x1="579.9" y1="564.7" x2="579.9" y2="571.7" stroke="#0d0d0d" stroke-width="1.4" />
<line x1="649.2" y1="794.4" x2="649.2" y2="801.9" stroke="#0d0d0d" stroke-width="1.4" />
<line x1="649.2" y1="564.7" x2="649.2" y2="571.7" stroke="#0d0d0d" stroke-width="1.4" />
<line x1="720.1" y1="794.4" x2="720.1" y2="801.9" stroke="#0d0d0d" stroke-width="1.4" />
<line x1="720.1" y1="564.7" x2="720.1" y2="571.7" stroke="#0d0d0d" stroke-width="1.4" />
<text x="140.3" y="800.5" font-size="17.0" text-anchor="end" fill="#000" stroke="#000" stroke-width="0.4" textLength="10.0" lengthAdjust="spacingAndGlyphs">0</text>
<line x1="153.4" y1="763.0" x2="160.9" y2="763.0" stroke="#0d0d0d" stroke-width="1.4" />
<text x="140.3" y="769.1" font-size="17.0" text-anchor="end" fill="#000" stroke="#000" stroke-width="0.4" textLength="19.6" lengthAdjust="spacingAndGlyphs">20</text>
<line x1="153.4" y1="730.3" x2="160.9" y2="730.3" stroke="#0d0d0d" stroke-width="1.4" />
<text x="140.3" y="736.4" font-size="17.0" text-anchor="end" fill="#000" stroke="#000" stroke-width="0.4" textLength="19.6" lengthAdjust="spacingAndGlyphs">40</text>
<line x1="153.4" y1="699.1" x2="160.9" y2="699.1" stroke="#0d0d0d" stroke-width="1.4" />
<text x="140.3" y="705.2" font-size="17.0" text-anchor="end" fill="#000" stroke="#000" stroke-width="0.4" textLength="19.6" lengthAdjust="spacingAndGlyphs">60</text>
<line x1="153.4" y1="666.6" x2="160.9" y2="666.6" stroke="#0d0d0d" stroke-width="1.4" />
<text x="140.3" y="672.7" font-size="17.0" text-anchor="end" fill="#000" stroke="#000" stroke-width="0.4" textLength="19.6" lengthAdjust="spacingAndGlyphs">80</text>
<line x1="153.4" y1="635.7" x2="160.9" y2="635.7" stroke="#0d0d0d" stroke-width="1.4" />
<text x="141.7" y="641.8" font-size="17.0" text-anchor="end" fill="#000" stroke="#000" stroke-width="0.4" textLength="31.4" lengthAdjust="spacingAndGlyphs">100</text>
<line x1="153.4" y1="603.1" x2="160.9" y2="603.1" stroke="#0d0d0d" stroke-width="1.4" />
<text x="141.7" y="609.2" font-size="17.0" text-anchor="end" fill="#000" stroke="#000" stroke-width="0.4" textLength="31.4" lengthAdjust="spacingAndGlyphs">120</text>
<text x="141.7" y="577.8" font-size="17.0" text-anchor="end" fill="#000" stroke="#000" stroke-width="0.4" textLength="31.4" lengthAdjust="spacingAndGlyphs">140</text>
<text x="231.2" y="827.2" font-size="17.0" text-anchor="middle" fill="#000" stroke="#000" stroke-width="0.4" textLength="37.0" lengthAdjust="spacingAndGlyphs">0.78</text>
<text x="302.0" y="827.2" font-size="17.0" text-anchor="middle" fill="#000" stroke="#000" stroke-width="0.4" textLength="37.0" lengthAdjust="spacingAndGlyphs">1.56</text>
<text x="371.4" y="827.2" font-size="17.0" text-anchor="middle" fill="#000" stroke="#000" stroke-width="0.4" textLength="37.0" lengthAdjust="spacingAndGlyphs">3.12</text>
<text x="440.7" y="827.2" font-size="17.0" text-anchor="middle" fill="#000" stroke="#000" stroke-width="0.4" textLength="37.0" lengthAdjust="spacingAndGlyphs">6.25</text>
<text x="511.4" y="827.2" font-size="17.0" text-anchor="middle" fill="#000" stroke="#000" stroke-width="0.4" textLength="37.0" lengthAdjust="spacingAndGlyphs">12.5</text>
<text x="580.9" y="827.2" font-size="17.0" text-anchor="middle" fill="#000" stroke="#000" stroke-width="0.4" textLength="19.6" lengthAdjust="spacingAndGlyphs">25</text>
<text x="650.2" y="827.2" font-size="17.0" text-anchor="middle" fill="#000" stroke="#000" stroke-width="0.4" textLength="19.6" lengthAdjust="spacingAndGlyphs">50</text>
<text x="721.1" y="827.2" font-size="17.0" text-anchor="middle" fill="#000" stroke="#000" stroke-width="0.4" textLength="31.4" lengthAdjust="spacingAndGlyphs">100</text>
<text x="230.9" y="551.1" font-size="17.0" text-anchor="middle" fill="#000" stroke="#000" stroke-width="0.4" textLength="37.0" lengthAdjust="spacingAndGlyphs">0.78</text>
<text x="301.7" y="551.1" font-size="17.0" text-anchor="middle" fill="#000" stroke="#000" stroke-width="0.4" textLength="37.0" lengthAdjust="spacingAndGlyphs">1.56</text>
<text x="371.1" y="551.1" font-size="17.0" text-anchor="middle" fill="#000" stroke="#000" stroke-width="0.4" textLength="37.0" lengthAdjust="spacingAndGlyphs">3.12</text>
<text x="440.4" y="551.1" font-size="17.0" text-anchor="middle" fill="#000" stroke="#000" stroke-width="0.4" textLength="37.0" lengthAdjust="spacingAndGlyphs">6.25</text>
<text x="511.1" y="551.1" font-size="17.0" text-anchor="middle" fill="#000" stroke="#000" stroke-width="0.4" textLength="37.0" lengthAdjust="spacingAndGlyphs">12.5</text>
<text x="580.6" y="551.1" font-size="17.0" text-anchor="middle" fill="#000" stroke="#000" stroke-width="0.4" textLength="19.6" lengthAdjust="spacingAndGlyphs">25</text>
<text x="649.9" y="551.1" font-size="17.0" text-anchor="middle" fill="#000" stroke="#000" stroke-width="0.4" textLength="19.6" lengthAdjust="spacingAndGlyphs">50</text>
<text x="720.8" y="551.1" font-size="17.0" text-anchor="middle" fill="#000" stroke="#000" stroke-width="0.4" textLength="31.4" lengthAdjust="spacingAndGlyphs">100</text>
<text y="521.3" font-size="18.0" fill="#000" font-weight="bold" ><tspan x="386.77" textLength="34.95" lengthAdjust="spacingAndGlyphs">DXR</tspan> <tspan x="428.07" textLength="65.94" lengthAdjust="spacingAndGlyphs">(ng/ml)</tspan></text>
<text y="858.7" font-size="18.0" fill="#000" font-weight="bold" ><tspan x="355.71" textLength="29.26" lengthAdjust="spacingAndGlyphs">CM</tspan> <tspan x="389.87" textLength="17.08" lengthAdjust="spacingAndGlyphs">or</tspan> <tspan x="412.32" textLength="29.20" lengthAdjust="spacingAndGlyphs">LYS</tspan> <tspan x="446.11" textLength="77.75" lengthAdjust="spacingAndGlyphs">(µl/well)</tspan></text>
<text y="0.0" font-size="18.3" fill="#000" font-weight="bold" stroke="#000" stroke-width="0.5" transform="translate(97.0 835.7) rotate(-90) scale(1 1.14)"><tspan x="-0.28" textLength="72.35" lengthAdjust="spacingAndGlyphs">CFPAC-1</tspan> <tspan x="75.57" textLength="109.68" lengthAdjust="spacingAndGlyphs">proliferation</tspan> <tspan x="190.98" textLength="20.10" lengthAdjust="spacingAndGlyphs">(%</tspan> <tspan x="217.15" textLength="16.19" lengthAdjust="spacingAndGlyphs">vs</tspan> <tspan x="239.06" textLength="46.55" lengthAdjust="spacingAndGlyphs">CTRL)</tspan></text>
<clipPath id="clip3"><rect x="160.3" y="541.7" width="560.7" height="253.3"/></clipPath>
<g clip-path="url(#clip3)" stroke="#464646" stroke-width="1.4">
<path d="M230.2 637.5V630.0M225.5 630.0H234.9" fill="none"/>
<path d="M510.4 683.5V671.0M505.7 671.0H515.1" fill="none"/>
<path d="M579.9 762.5V748.5M575.2 748.5H584.6" fill="none"/>
</g>
<polyline clip-path="url(#clip3)" points="160.9,635.5 230.2,637.5 301.0,639.5 370.4,641.0 439.7,640.8 510.4,683.5 579.9,762.5 649.2,781.5 720.1,790.0" fill="none" stroke="#595959" stroke-width="3.8" stroke-linejoin="round" stroke-linecap="round"/>
<circle cx="160.9" cy="635.5" r="4.6" fill="#595959"/>
<circle cx="230.2" cy="637.5" r="4.6" fill="#595959"/>
<circle cx="301.0" cy="639.5" r="4.6" fill="#595959"/>
<circle cx="370.4" cy="641.0" r="4.6" fill="#595959"/>
<circle cx="439.7" cy="640.8" r="4.6" fill="#595959"/>
<circle cx="510.4" cy="683.5" r="4.6" fill="#595959"/>
<circle cx="579.9" cy="762.5" r="4.6" fill="#595959"/>
<circle cx="649.2" cy="781.5" r="4.6" fill="#595959"/>
<circle cx="720.1" cy="790.0" r="4.6" fill="#595959"/>
<g clip-path="url(#clip3)" stroke="#464646" stroke-width="1.4">
<path d="M160.9 635.5V628.0M156.2 628.0H165.6" fill="none"/>
<path d="M230.2 632.5V627.0M225.5 627.0H234.9" fill="none"/>
<path d="M301.0 629.4V611.3M296.3 611.3H305.7" fill="none"/>
<path d="M370.4 634.0V626.8M365.7 626.8H375.1" fill="none"/>
<path d="M439.7 633.8V630.6M435.0 630.6H444.4" fill="none"/>
<path d="M510.4 634.5V622.5M505.7 622.5H515.1" fill="none"/>
<path d="M579.9 634.5V615.5M575.2 615.5H584.6" fill="none"/>
<path d="M649.2 651.0V635.5M644.5 635.5H653.9" fill="none"/>
</g>
<polyline clip-path="url(#clip3)" points="160.9,635.5 230.2,632.5 301.0,629.4 370.4,634.0 439.7,633.8 510.4,634.5 579.9,634.5 649.2,651.0 720.1,674.0" fill="none" stroke="#a6a6a6" stroke-width="3.8" stroke-linejoin="round" stroke-linecap="round"/>
<circle cx="160.9" cy="635.5" r="4.6" fill="#a6a6a6"/>
<circle cx="230.2" cy="632.5" r="4.6" fill="#a6a6a6"/>
<circle cx="301.0" cy="629.4" r="4.6" fill="#a6a6a6"/>
<circle cx="370.4" cy="634.0" r="4.6" fill="#a6a6a6"/>
<circle cx="439.7" cy="633.8" r="4.6" fill="#a6a6a6"/>
<circle cx="510.4" cy="634.5" r="4.6" fill="#a6a6a6"/>
<circle cx="579.9" cy="634.5" r="4.6" fill="#a6a6a6"/>
<circle cx="649.2" cy="651.0" r="4.6" fill="#a6a6a6"/>
<circle cx="720.1" cy="674.0" r="4.6" fill="#a6a6a6"/>
<g clip-path="url(#clip3)" stroke="#464646" stroke-width="1.4">
<path d="M370.4 645.5V630.0M365.7 630.0H375.1" fill="none"/>
<path d="M439.7 666.5V650.0M435.0 650.0H444.4" fill="none"/>
<path d="M510.4 729.0V715.0M505.7 715.0H515.1" fill="none"/>
<path d="M649.2 772.0V766.0M644.5 766.0H653.9" fill="none"/>
</g>
<polyline clip-path="url(#clip3)" points="160.9,635.5 230.2,638.5 301.0,644.0 370.4,645.5 439.7,666.5 510.4,729.0 579.9,762.5 649.2,772.0 720.1,790.0" fill="none" stroke="#7f7f7f" stroke-width="3.8" stroke-linejoin="round" stroke-linecap="round"/>
<circle cx="160.9" cy="635.5" r="4.6" fill="#7f7f7f"/>
<circle cx="230.2" cy="638.5" r="4.6" fill="#7f7f7f"/>
<circle cx="301.0" cy="644.0" r="4.6" fill="#7f7f7f"/>
<circle cx="370.4" cy="645.5" r="4.6" fill="#7f7f7f"/>
<circle cx="439.7" cy="666.5" r="4.6" fill="#7f7f7f"/>
<circle cx="510.4" cy="729.0" r="4.6" fill="#7f7f7f"/>
<circle cx="579.9" cy="762.5" r="4.6" fill="#7f7f7f"/>
<circle cx="649.2" cy="772.0" r="4.6" fill="#7f7f7f"/>
<circle cx="720.1" cy="790.0" r="4.6" fill="#7f7f7f"/>
<text x="829.6" y="476.0" font-size="30.0" text-anchor="start" fill="#000" font-weight="bold" textLength="21.0" lengthAdjust="spacingAndGlyphs">D</text>
<line x1="1007.2" y1="481.7" x2="1056.5" y2="481.7" stroke="#7f7f7f" stroke-width="2.4" stroke-linecap="round" stroke-dasharray="0.4 5.022"/>
<text x="1061.5" y="486.8" font-size="18.400000000000002" text-anchor="start" fill="#000" font-weight="bold" textLength="179.0" lengthAdjust="spacingAndGlyphs">GinPa-MSCs/PTX CM</text>
<line x1="1250.2" y1="481.7" x2="1299.5" y2="481.7" stroke="#b0b0b0" stroke-width="2.4" stroke-linecap="round" stroke-dasharray="0.4 5.022"/>
<text x="1304.0" y="486.8" font-size="18.400000000000002" text-anchor="start" fill="#000" font-weight="bold" textLength="181.0" lengthAdjust="spacingAndGlyphs">GinPa-MSCs/GCB CM</text>
<line x1="1007.2" y1="518.5" x2="1056.5" y2="518.5" stroke="#0a0a0a" stroke-width="2.4" stroke-linecap="round" stroke-dasharray="0.4 5.022"/>
<text x="1061.5" y="523.8" font-size="18.400000000000002" text-anchor="start" fill="#000" font-weight="bold" textLength="183.0" lengthAdjust="spacingAndGlyphs">GinPa-MSCs/DXR CM</text>
<line x1="969.9" y1="554.9" x2="969.9" y2="783.6" stroke="#0d0d0d" stroke-width="1.7" />
<line x1="963.5" y1="777.2" x2="1555.2" y2="777.2" stroke="#0d0d0d" stroke-width="1.7" />
<line x1="1043.2" y1="777.2" x2="1043.2" y2="783.6" stroke="#0d0d0d" stroke-width="1.4" />
<line x1="1117.0" y1="777.2" x2="1117.0" y2="783.6" stroke="#0d0d0d" stroke-width="1.4" />
<line x1="1189.1" y1="777.2" x2="1189.1" y2="783.6" stroke="#0d0d0d" stroke-width="1.4" />
<line x1="1262.9" y1="777.2" x2="1262.9" y2="783.6" stroke="#0d0d0d" stroke-width="1.4" />
<line x1="1335.0" y1="777.2" x2="1335.0" y2="783.6" stroke="#0d0d0d" stroke-width="1.4" />
<line x1="1408.8" y1="777.2" x2="1408.8" y2="783.6" stroke="#0d0d0d" stroke-width="1.4" />
<line x1="1481.0" y1="777.2" x2="1481.0" y2="783.6" stroke="#0d0d0d" stroke-width="1.4" />
<line x1="1554.5" y1="777.2" x2="1554.5" y2="783.6" stroke="#0d0d0d" stroke-width="1.4" />
<text x="950.9" y="783.1" font-size="17.0" text-anchor="end" fill="#000" stroke="#000" stroke-width="0.4" textLength="10.0" lengthAdjust="spacingAndGlyphs">0</text>
<line x1="963.5" y1="744.9" x2="969.9" y2="744.9" stroke="#0d0d0d" stroke-width="1.4" />
<text x="948.9" y="750.8" font-size="17.0" text-anchor="end" fill="#000" stroke="#000" stroke-width="0.4" textLength="19.6" lengthAdjust="spacingAndGlyphs">20</text>
<line x1="963.5" y1="713.1" x2="969.9" y2="713.1" stroke="#0d0d0d" stroke-width="1.4" />
<text x="948.9" y="719.0" font-size="17.0" text-anchor="end" fill="#000" stroke="#000" stroke-width="0.4" textLength="19.6" lengthAdjust="spacingAndGlyphs">40</text>
<line x1="963.5" y1="682.5" x2="969.9" y2="682.5" stroke="#0d0d0d" stroke-width="1.4" />
<text x="948.9" y="688.4" font-size="17.0" text-anchor="end" fill="#000" stroke="#000" stroke-width="0.4" textLength="19.6" lengthAdjust="spacingAndGlyphs">60</text>
<line x1="963.5" y1="651.1" x2="969.9" y2="651.1" stroke="#0d0d0d" stroke-width="1.4" />
<text x="948.9" y="657.0" font-size="17.0" text-anchor="end" fill="#000" stroke="#000" stroke-width="0.4" textLength="19.6" lengthAdjust="spacingAndGlyphs">80</text>
<line x1="963.5" y1="618.3" x2="969.9" y2="618.3" stroke="#0d0d0d" stroke-width="1.4" />
<text x="950.3" y="624.2" font-size="17.0" text-anchor="end" fill="#000" stroke="#000" stroke-width="0.4" textLength="31.4" lengthAdjust="spacingAndGlyphs">100</text>
<line x1="963.5" y1="587.5" x2="969.9" y2="587.5" stroke="#0d0d0d" stroke-width="1.4" />
<text x="950.3" y="593.4" font-size="17.0" text-anchor="end" fill="#000" stroke="#000" stroke-width="0.4" textLength="31.4" lengthAdjust="spacingAndGlyphs">120</text>
<line x1="963.5" y1="555.7" x2="969.9" y2="555.7" stroke="#0d0d0d" stroke-width="1.4" />
<text x="950.3" y="561.6" font-size="17.0" text-anchor="end" fill="#000" stroke="#000" stroke-width="0.4" textLength="31.4" lengthAdjust="spacingAndGlyphs">140</text>
<text x="1043.7" y="810.3" font-size="17.0" text-anchor="middle" fill="#000" stroke="#000" stroke-width="0.4" textLength="37.0" lengthAdjust="spacingAndGlyphs">0.78</text>
<text x="1117.5" y="810.3" font-size="17.0" text-anchor="middle" fill="#000" stroke="#000" stroke-width="0.4" textLength="37.0" lengthAdjust="spacingAndGlyphs">1.56</text>
<text x="1189.6" y="810.3" font-size="17.0" text-anchor="middle" fill="#000" stroke="#000" stroke-width="0.4" textLength="37.0" lengthAdjust="spacingAndGlyphs">3.12</text>
<text x="1263.4" y="810.3" font-size="17.0" text-anchor="middle" fill="#000" stroke="#000" stroke-width="0.4" textLength="37.0" lengthAdjust="spacingAndGlyphs">6.25</text>
<text x="1335.5" y="810.3" font-size="17.0" text-anchor="middle" fill="#000" stroke="#000" stroke-width="0.4" textLength="37.0" lengthAdjust="spacingAndGlyphs">12.5</text>
<text x="1409.3" y="810.3" font-size="17.0" text-anchor="middle" fill="#000" stroke="#000" stroke-width="0.4" textLength="19.6" lengthAdjust="spacingAndGlyphs">25</text>
<text x="1481.5" y="810.3" font-size="17.0" text-anchor="middle" fill="#000" stroke="#000" stroke-width="0.4" textLength="19.6" lengthAdjust="spacingAndGlyphs">50</text>
<text x="1555.0" y="810.3" font-size="17.0" text-anchor="middle" fill="#000" stroke="#000" stroke-width="0.4" textLength="31.4" lengthAdjust="spacingAndGlyphs">100</text>
<text y="840.6" font-size="18.0" fill="#000" font-weight="bold" ><tspan x="1205.61" textLength="29.26" lengthAdjust="spacingAndGlyphs">CM</tspan> <tspan x="1239.61" textLength="77.75" lengthAdjust="spacingAndGlyphs">(µl/well)</tspan></text>
<text y="0.0" font-size="18.3" fill="#000" font-weight="bold" stroke="#000" stroke-width="0.5" transform="translate(909.0 820.4) rotate(-90) scale(1 1.14)"><tspan x="-0.28" textLength="72.35" lengthAdjust="spacingAndGlyphs">CFPAC-1</tspan> <tspan x="75.57" textLength="109.68" lengthAdjust="spacingAndGlyphs">proliferation</tspan> <tspan x="190.98" textLength="20.10" lengthAdjust="spacingAndGlyphs">(%</tspan> <tspan x="217.15" textLength="16.19" lengthAdjust="spacingAndGlyphs">vs</tspan> <tspan x="239.06" textLength="46.55" lengthAdjust="spacingAndGlyphs">CTRL)</tspan></text>
<line x1="971.0" y1="596.4" x2="1550.9" y2="703.4" stroke="#7a7a7a" stroke-width="2.5" stroke-linecap="round" stroke-dasharray="0.4 5.493"/>
<line x1="971.0" y1="578.8" x2="1505.9" y2="776.4" stroke="#adadad" stroke-width="2.5" stroke-linecap="round" stroke-dasharray="0.4 5.474"/>
<line x1="971.0" y1="584.6" x2="1551.3" y2="761.2" stroke="#0a0a0a" stroke-width="2.5" stroke-linecap="round" stroke-dasharray="0.4 5.485"/>
<text x="1228.5" y="625.0" font-size="18.1" text-anchor="start" fill="#000" font-weight="bold" textLength="93.0" lengthAdjust="spacingAndGlyphs">R² = 0,7489</text>
<text x="1137.5" y="697.0" font-size="18.1" text-anchor="start" fill="#000" font-weight="bold" textLength="93.0" lengthAdjust="spacingAndGlyphs">R² = 0,8442</text>
<text x="1415.0" y="712.5" font-size="18.1" text-anchor="start" fill="#000" font-weight="bold" textLength="93.0" lengthAdjust="spacingAndGlyphs">R² = 0,8143</text>
</svg>
</body>
</html>
